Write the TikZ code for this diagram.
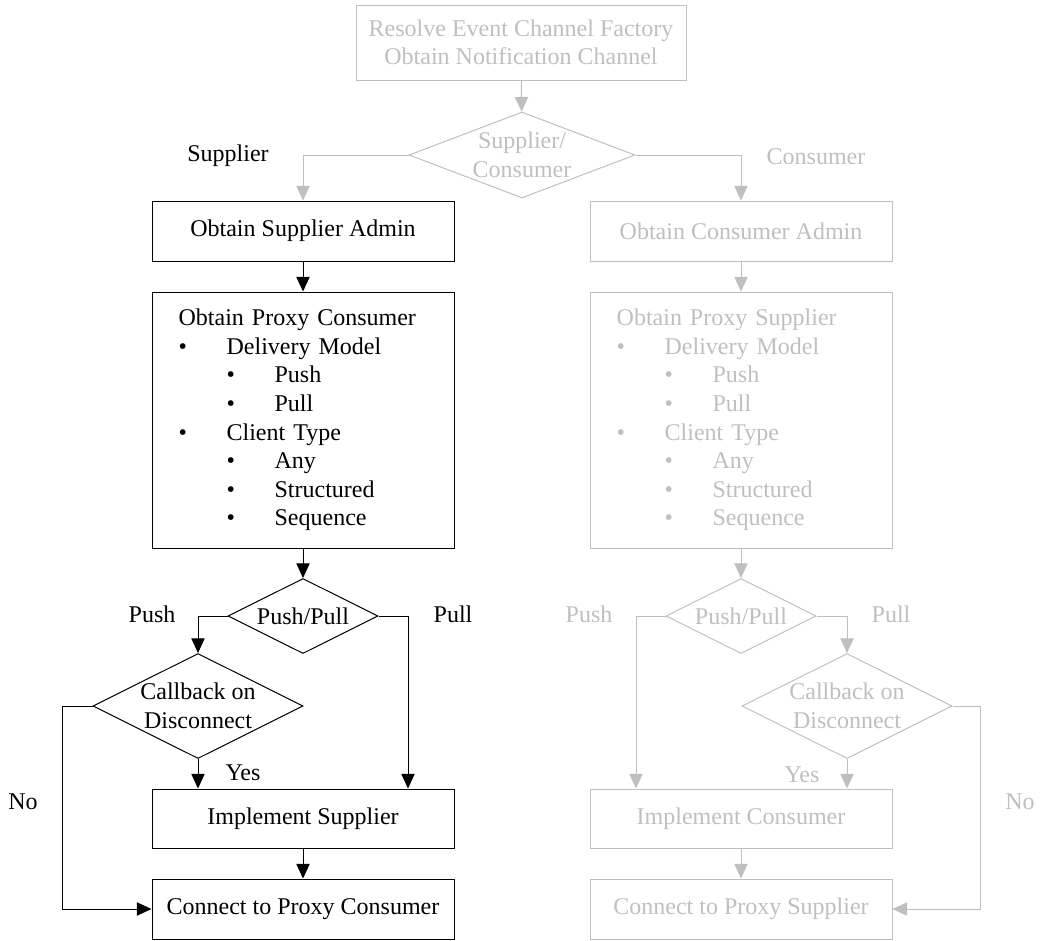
\documentclass[tikz,border=0pt]{standalone}
\usepackage{fontspec}
\setmainfont{Liberation Serif}
\usepackage{tikz}
\usetikzlibrary{arrows.meta,shapes.geometric}
\tikzset{every picture/.style={line width=0.75pt}}
\definecolor{fade}{RGB}{191,191,191}
\tikzset{
  box/.style={draw, rectangle, minimum width=226.5pt, minimum height=45pt, inner sep=0pt, align=center},
  decision/.style={draw, diamond, aspect=2, inner sep=-3pt, align=center},
  faded/.style={draw=fade, text=fade},
  link/.style={-{Triangle[length=11pt,width=10pt]}},
}

\begin{document}
\begin{tikzpicture}[x=0.75pt,y=0.75pt,yscale=-1,xscale=1,font=\fontsize{18pt}{21.4pt}\selectfont]
\useasboundingbox (0,0) rectangle (1043,940);

%Shape: Rectangle [id:res] 
\node (res) at (521,42.5) [box, faded, minimum width=247.5pt, minimum height=56.25pt] {Resolve Event Channel Factory\\Obtain Notification Channel};
%Shape: Diamond [id:sc] 
\node (sc) at (522,155) [decision, faded, minimum width=169.5pt, minimum height=64.5pt] {Supplier/\\Consumer};

%Shape: Rectangle [id:supAdmin] 
\node (supAdmin) at (303,231) [box] {Obtain Supplier Admin};
%Shape: Rectangle [id:supProxy] 
\node (supProxy) at (303,420) [box, minimum height=192pt, inner xsep=20pt, text width=186.5pt, align=left] {Obtain Proxy Consumer\\
\makebox[36pt][l]{\textbullet}Delivery Model\\
\hspace*{36pt}\makebox[36pt][l]{\textbullet}Push\\
\hspace*{36pt}\makebox[36pt][l]{\textbullet}Pull\\
\makebox[36pt][l]{\textbullet}Client Type\\
\hspace*{36pt}\makebox[36pt][l]{\textbullet}Any\\
\hspace*{36pt}\makebox[36pt][l]{\textbullet}Structured\\
\hspace*{36pt}\makebox[36pt][l]{\textbullet}Sequence};
%Shape: Diamond [id:supPP] 
\node (supPP) at (303,616) [decision, minimum width=112.5pt, minimum height=56.25pt] {Push/Pull};
%Shape: Diamond [id:supCb] 
\node (supCb) at (198,706) [decision, minimum width=157.5pt, minimum height=78.75pt] {Callback on\\Disconnect};
%Shape: Rectangle [id:supImpl] 
\node (supImpl) at (303,818.5) [box, minimum height=44.25pt] {Implement Supplier};
%Shape: Rectangle [id:supConn] 
\node (supConn) at (303,909) [box] {Connect to Proxy Consumer};

%Shape: Rectangle [id:conAdmin] 
\node (conAdmin) at (741,231) [box, faded] {Obtain Consumer Admin};
%Shape: Rectangle [id:conProxy] 
\node (conProxy) at (741,420) [box, faded, minimum height=192pt, inner xsep=20pt, text width=186.5pt, align=left] {Obtain Proxy Supplier\\
\makebox[36pt][l]{\textbullet}Delivery Model\\
\hspace*{36pt}\makebox[36pt][l]{\textbullet}Push\\
\hspace*{36pt}\makebox[36pt][l]{\textbullet}Pull\\
\makebox[36pt][l]{\textbullet}Client Type\\
\hspace*{36pt}\makebox[36pt][l]{\textbullet}Any\\
\hspace*{36pt}\makebox[36pt][l]{\textbullet}Structured\\
\hspace*{36pt}\makebox[36pt][l]{\textbullet}Sequence};
%Shape: Diamond [id:conPP] 
\node (conPP) at (741,616) [decision, faded, minimum width=112.5pt, minimum height=56.25pt] {Push/Pull};
%Shape: Diamond [id:conCb] 
\node (conCb) at (847,706) [decision, faded, minimum width=157.5pt, minimum height=78.75pt] {Callback on\\Disconnect};
%Shape: Rectangle [id:conImpl] 
\node (conImpl) at (741,818.5) [box, faded, minimum height=44.25pt] {Implement Consumer};
%Shape: Rectangle [id:conConn] 
\node (conConn) at (741,909) [box, faded] {Connect to Proxy Supplier};

% Text Node
\node (lSup) at (228,156) {Supplier};
% Text Node
\node (lCon) at (816,157) [text=fade] {Consumer};
% Text Node
\node (lPushL) at (152,614) {Push};
% Text Node
\node (lPullL) at (453,614) {Pull};
% Text Node
\node (lYesL) at (243,773) {Yes};
% Text Node
\node (lNoL) at (23,802) {No};
% Text Node
\node (lPushR) at (589,614) [text=fade] {Push};
% Text Node
\node (lPullR) at (891,614) [text=fade] {Pull};
% Text Node
\node (lYesR) at (802,775) [text=fade] {Yes};
% Text Node
\node (lNoR) at (1020,802) [text=fade] {No};

%Arrows: top
\draw [link, fade] (res) -- (sc);
\draw [link, fade] (sc.west) -| (supAdmin.north);
\draw [link, fade] (sc.east) -| (conAdmin.north);
%Arrows: supplier side
\draw [link] (supAdmin) -- (supProxy);
\draw [link] (supProxy) -- (supPP);
\draw [link] (supPP.west) -| (supCb.north);
\draw [link] (supPP.east) -| ([xshift=78.75pt]supImpl.north);
\draw [link] (supCb.south) -- (supCb.south |- supImpl.north);
\draw [link] (supCb.west) -- ++(-30,0) |- (supConn.west);
\draw [link] (supImpl) -- (supConn);
%Arrows: consumer side
\draw [link, fade] (conAdmin) -- (conProxy);
\draw [link, fade] (conProxy) -- (conPP);
\draw [link, fade] (conPP.west) -| ([xshift=-78.75pt]conImpl.north);
\draw [link, fade] (conPP.east) -| (conCb.north);
\draw [link, fade] (conCb.south) -- (conCb.south |- conImpl.north);
\draw [link, fade] (conCb.east) -- ++(28,0) |- (conConn.east);
\draw [link, fade] (conImpl) -- (conConn);

\end{tikzpicture}
\end{document}
